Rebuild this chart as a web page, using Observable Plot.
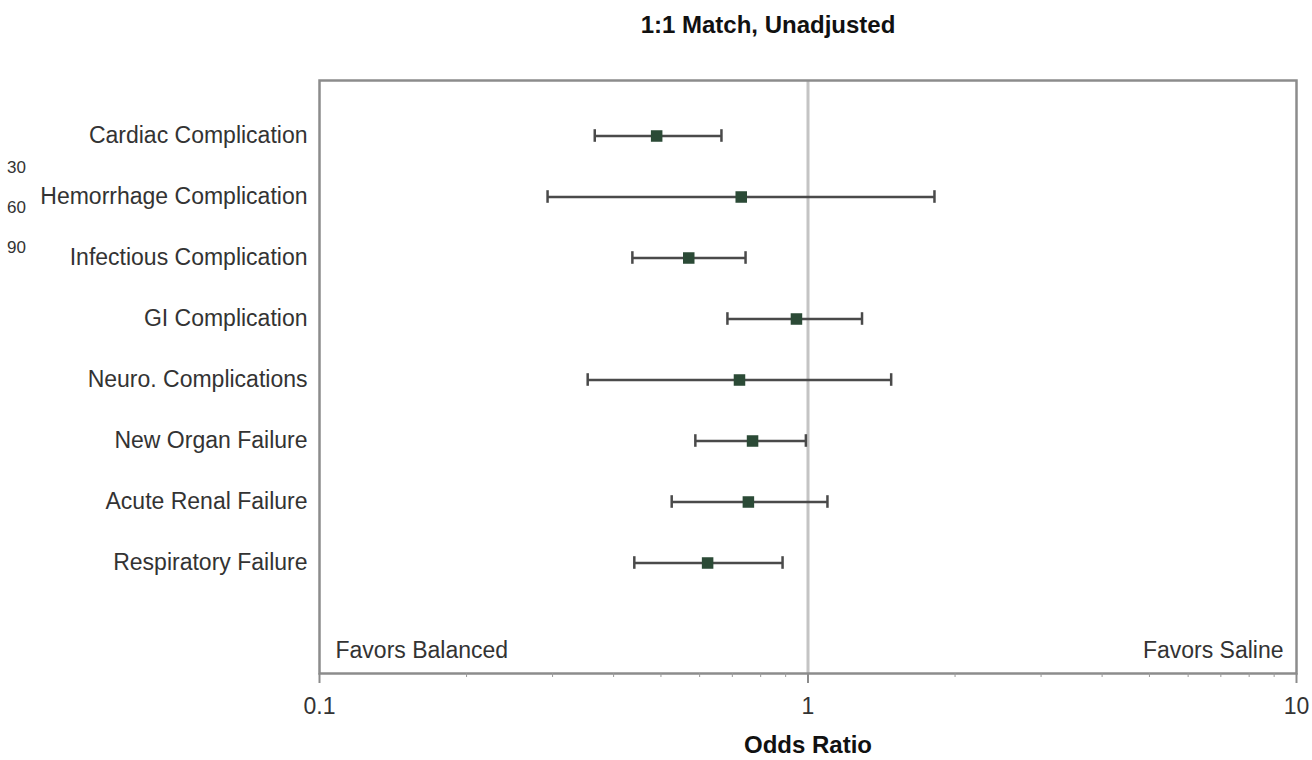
<!DOCTYPE html>
<html>
<head>
<meta charset="utf-8">
<script src="https://cdn.jsdelivr.net/npm/d3@7"></script>
<script src="https://cdn.jsdelivr.net/npm/@observablehq/plot@0.6"></script>
<style>
  html, body { margin: 0; padding: 0; background: #fff; }
  #wrap { position: relative; width: 1312px; height: 760px; overflow: hidden; }
  #stub { position: absolute; left: 7px; top: 148px; white-space: nowrap;
          font-family: "Liberation Sans", Arial, sans-serif; font-size: 17px; color: #333; line-height: 40px; }
</style>
</head>
<body>
<div id="wrap"></div>
<script>
// Data
const outcomes = [
  "Cardiac Complication",
  "Hemorrhage Complication",
  "Infectious Complication",
  "GI Complication",
  "Neuro. Complications",
  "New Organ Failure",
  "Acute Renal Failure",
  "Respiratory Failure"
];
const oddsRatio = [0.49, 0.73, 0.57, 0.947, 0.724, 0.77, 0.755, 0.623];
const ciLow     = [0.366, 0.293, 0.437, 0.684, 0.354, 0.588, 0.526, 0.441];
const ciHigh    = [0.665, 1.815, 0.745, 1.29, 1.48, 0.99, 1.096, 0.887];
const majorTicks = [0.1, 1, 10];
const minorTicks = [0.2, 0.3, 0.4, 0.5, 0.6, 0.7, 0.8, 0.9, 2, 3, 4, 5, 6, 7, 8, 9];
const stubLabels = ["30", "60", "90"];
const title = "1:1 Match, Unadjusted";
const xLabel = "Odds Ratio";

const rows = outcomes.map((name, i) => ({name, or: oddsRatio[i], lo: ciLow[i], hi: ciHigh[i]}));

const font = "'Liberation Sans', Arial, sans-serif";
const textColor = "#333";
const capInset = 24.2;

const chart = Plot.plot({
  width: 1312,
  height: 760,
  marginTop: 80,
  marginBottom: 87,
  marginLeft: 319,
  marginRight: 16,
  style: {fontFamily: font, fontSize: "23px", color: textColor, background: "#fff"},
  x: {type: "log", domain: [0.1, 10]},
  y: {type: "band", domain: outcomes, range: [103.3, 594.7], padding: 0},
  marks: [
    Plot.ruleX([1], {stroke: "#c4c4c4", strokeWidth: 3}),
    Plot.frame({stroke: "#8c8c8c", strokeWidth: 2.5}),
    Plot.axisY({tickSize: 0, tickPadding: 12, label: null, fontSize: 23, fill: textColor}),
    Plot.axisX(minorTicks, {tickSize: 4, tickFormat: () => "", label: null, stroke: "#999"}),
    Plot.axisX(majorTicks, {tickSize: 10, tickPadding: 14, tickFormat: d => String(d), label: null, stroke: "#8c8c8c", strokeWidth: 2, fontSize: 23, fill: textColor}),
    Plot.ruleY(rows, {y: "name", x1: "lo", x2: "hi", stroke: "#4a4a4a", strokeWidth: 2.5}),
    Plot.tickX(rows, {y: "name", x: "lo", stroke: "#4a4a4a", strokeWidth: 2.5, insetTop: capInset, insetBottom: capInset}),
    Plot.tickX(rows, {y: "name", x: "hi", stroke: "#4a4a4a", strokeWidth: 2.5, insetTop: capInset, insetBottom: capInset}),
    Plot.dot(rows, {y: "name", x: "or", symbol: "square", r: 6.5, fill: "#2b4a36", stroke: "none"}),
    Plot.text(["Favors Balanced"], {frameAnchor: "bottom-left", lineAnchor: "middle", dx: 16, dy: -23, fontSize: 23, fill: textColor}),
    Plot.text(["Favors Saline"], {frameAnchor: "bottom-right", lineAnchor: "middle", dx: -13, dy: -23, fontSize: 23, fill: textColor}),
    Plot.text([title], {frameAnchor: "top", lineAnchor: "middle", dx: -40, dy: -55, fontSize: 24, fontWeight: "bold", fill: "#111"}),
    Plot.text([xLabel], {frameAnchor: "bottom", lineAnchor: "middle", dy: 72, fontSize: 24, fontWeight: "bold", fill: "#111"})
  ]
});

const wrap = document.getElementById("wrap");
wrap.appendChild(chart);
const stub = document.createElement("div");
stub.id = "stub";
stub.innerHTML = stubLabels.map(s => `<div>${s}</div>`).join("");
wrap.appendChild(stub);
</script>
</body>
</html>
